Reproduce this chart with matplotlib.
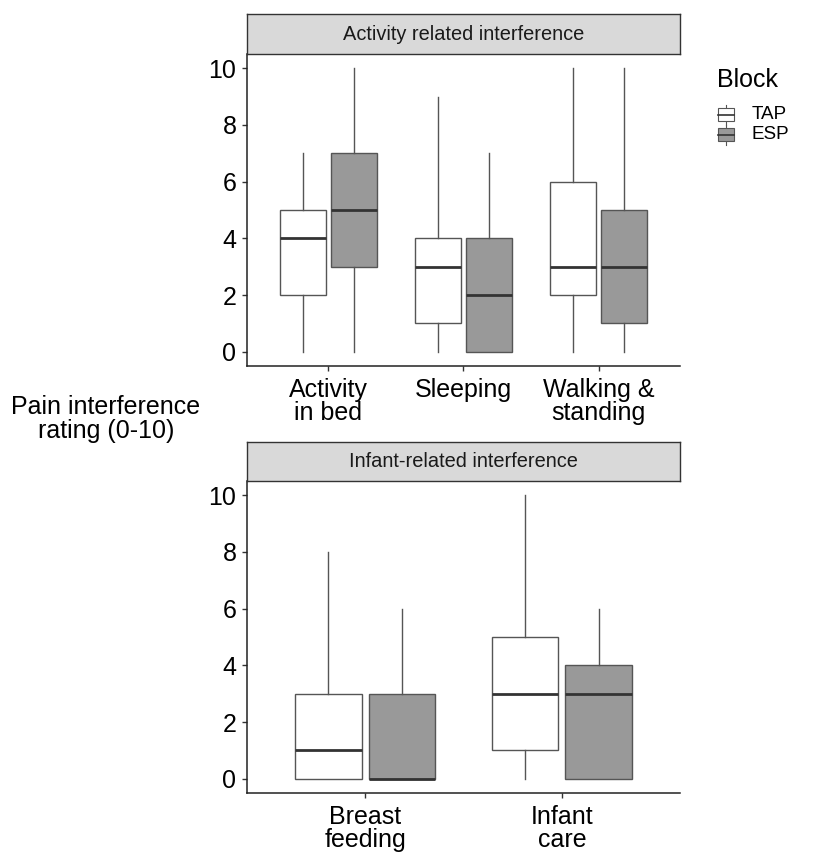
import matplotlib
matplotlib.use("Agg")
import matplotlib.pyplot as plt
from matplotlib.patches import Rectangle

W, H = 828, 857
plt.rcParams['font.family'] = ['Liberation Sans', 'DejaVu Sans']

EDGE = "#555555"
MED = "#333333"
ESP_FILL = "#999999"

# top facet
top_title = "Activity related interference"
top_cats = ["Activity\nin bed", "Sleeping", "Walking &\nstanding"]
tap_top_lo = [0, 0, 0]
tap_top_q1 = [2, 1, 2]
tap_top_med = [4, 3, 3]
tap_top_q3 = [5, 4, 6]
tap_top_hi = [7, 9, 10]
esp_top_lo = [0, 0, 0]
esp_top_q1 = [3, 0, 1]
esp_top_med = [5, 2, 3]
esp_top_q3 = [7, 4, 5]
esp_top_hi = [10, 7, 10]

# bottom facet
bot_title = "Infant-related interference"
bot_cats = ["Breast\nfeeding", "Infant\ncare"]
tap_bot_lo = [0, 0]
tap_bot_q1 = [0, 1]
tap_bot_med = [1, 3]
tap_bot_q3 = [3, 5]
tap_bot_hi = [8, 10]
esp_bot_lo = [0, 0]
esp_bot_q1 = [0, 0]
esp_bot_med = [0, 3]
esp_bot_q3 = [3, 4]
esp_bot_hi = [6, 6]

y_ticks = [0, 2, 4, 6, 8, 10]
groups = ["TAP", "ESP"]

fig = plt.figure(figsize=(W / 100, H / 100), dpi=100)


def px_axes(x0, y0, x1, y1):
    # pixel box (top-left origin) -> figure fraction axes
    return fig.add_axes([x0 / W, 1 - y1 / H, (x1 - x0) / W, (y1 - y0) / H])


def make_stats(lo, q1, med, q3, hi):
    return [dict(whislo=a, q1=b, med=c, q3=d, whishi=e, fliers=[])
            for a, b, c, d, e in zip(lo, q1, med, q3, hi)]


def panel(ax, cats, tap, esp):
    n = len(cats)
    xs = list(range(1, n + 1))
    for src, off, fill in ((tap, -0.1875, "white"), (esp, 0.1875, ESP_FILL)):
        ax.bxp(make_stats(*src), positions=[x + off for x in xs], widths=0.34,
               patch_artist=True, showcaps=False, showfliers=False,
               boxprops=dict(facecolor=fill, edgecolor=EDGE, linewidth=1.0),
               whiskerprops=dict(color=EDGE, linewidth=1.0),
               medianprops=dict(color=MED, linewidth=2.0))
    ax.set_xlim(0.4, n + 0.6)
    ax.set_ylim(-0.5, 10.5)
    ax.set_yticks(y_ticks)
    ax.set_yticklabels([str(t) for t in y_ticks])
    ax.set_xticks(xs)
    ax.set_xticklabels(cats, linespacing=0.95)
    for s in ("top", "right"):
        ax.spines[s].set_visible(False)
    for s in ("left", "bottom"):
        ax.spines[s].set_color("#222222")
        ax.spines[s].set_linewidth(1.1)
    ax.tick_params(axis="both", length=3.6, width=1.0, color="#333333",
                   labelsize=18, labelcolor="black")
    ax.tick_params(axis="y", pad=4)
    ax.tick_params(axis="x", pad=5)


def strip(x0, y0, x1, y1, title):
    sa = px_axes(x0, y0, x1, y1)
    sa.set_facecolor("#d9d9d9")
    sa.set_xticks([])
    sa.set_yticks([])
    for s in sa.spines.values():
        s.set_color("#333333")
        s.set_linewidth(1.0)
    sa.text(0.5, 0.5, title, ha="center", va="center", fontsize=14.4,
            color="#1a1a1a", transform=sa.transAxes)


ax1 = px_axes(247, 54, 680, 366)
panel(ax1, top_cats,
      (tap_top_lo, tap_top_q1, tap_top_med, tap_top_q3, tap_top_hi),
      (esp_top_lo, esp_top_q1, esp_top_med, esp_top_q3, esp_top_hi))
strip(247, 14, 680, 54, top_title)

ax2 = px_axes(247, 481, 680, 793)
panel(ax2, bot_cats,
      (tap_bot_lo, tap_bot_q1, tap_bot_med, tap_bot_q3, tap_bot_hi),
      (esp_bot_lo, esp_bot_q1, esp_bot_med, esp_bot_q3, esp_bot_hi))
strip(247, 442, 680, 481, bot_title)

fig.text(106 / W, 1 - 419 / H, "Pain interference\nrating (0-10)",
         ha="center", va="center", fontsize=18, linespacing=0.95)

# legend, drawn in pixel coordinates
lg = px_axes(700, 55, 828, 160)
lg.set_xlim(700, 828)
lg.set_ylim(160, 55)
lg.axis("off")
lg.text(717, 80, "Block", fontsize=18, ha="left", va="center")
for i, (name, fill) in enumerate(zip(groups, ["white", ESP_FILL])):
    yc = 114.5 + i * 20
    lg.plot([726, 726], [yc - 10, yc + 10], color=EDGE, lw=0.8)
    lg.add_patch(Rectangle((718, yc - 6.5), 16, 13, facecolor=fill,
                           edgecolor=EDGE, lw=0.8, zorder=3))
    lg.plot([718, 734], [yc, yc], color=MED, lw=1.2, zorder=4)
    lg.text(752, yc, name, fontsize=13.6, ha="left", va="center")

fig.savefig("out.png", dpi=100)
